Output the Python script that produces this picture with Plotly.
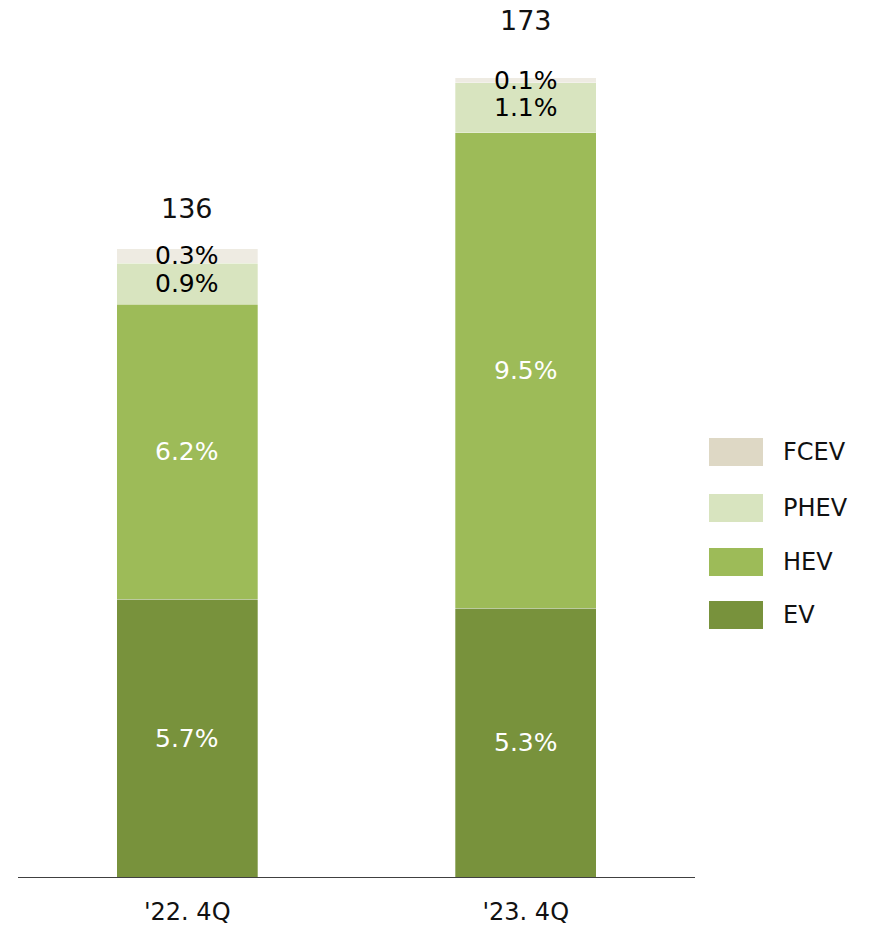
import plotly.graph_objects as go

categories = ["'22. 4Q", "'23. 4Q"]
series_names = ["EV", "HEV", "PHEV", "FCEV"]
ev_vals = [60.1, 58.2]
hev_vals = [63.9, 102.9]
phev_vals = [8.9, 10.8]
fcev_vals = [3.1, 1.1]
ev_pct = ["5.7%", "5.3%"]
hev_pct = ["6.2%", "9.5%"]
phev_pct = ["0.9%", "1.1%"]
fcev_pct = ["0.3%", "0.1%"]
totals = [136, 173]

series_vals = [ev_vals, hev_vals, phev_vals, fcev_vals]
series_pct = [ev_pct, hev_pct, phev_pct, fcev_pct]
bar_colors = ["#78923C", "#9DBB58", "#D8E4BF", "#EEEBE2"]
legend_colors = ["#78923C", "#9DBB58", "#D8E4BF", "#DED8C5"]
label_colors = ["white", "white", "#000000", "#000000"]

FONT = "DejaVu Sans"
FW, FH = 870, 928

fig = go.Figure()
for name, vals, col in zip(series_names, series_vals, bar_colors):
    fig.add_trace(go.Bar(
        x=categories, y=vals, name=name,
        marker=dict(color=col, line=dict(color="rgba(255,255,255,0.5)", width=0.6)),
        showlegend=False, hoverinfo="skip",
    ))

annotations = []
for i, cat in enumerate(categories):
    base = 0.0
    for vals, pcts, lc in zip(series_vals, series_pct, label_colors):
        mid = base + vals[i] / 2
        annotations.append(dict(
            x=cat, y=mid, xref="x", yref="y", text=pcts[i], showarrow=False,
            font=dict(family=FONT, size=25, color=lc),
            xanchor="center", yanchor="middle",
        ))
        base += vals[i]

total_shift = [40, 57]
for i, cat in enumerate(categories):
    annotations.append(dict(
        x=cat, y=totals[i], xref="x", yref="y", text=str(totals[i]), showarrow=False,
        font=dict(family=FONT, size=27, color="#111111"),
        xanchor="center", yanchor="middle", yshift=total_shift[i],
    ))

# plot area in page pixels
L, R, T, B = 18, 695, 20, 877
W, H = R - L, B - T
def px(xp):
    return (xp - L) / W
def py(yp):
    return (B - yp) / H

shapes = []
legend_order = [3, 2, 1, 0]
legend_tops = [438, 494, 548, 601]
for k, idx in enumerate(legend_order):
    top = legend_tops[k]
    shapes.append(dict(type="rect", xref="paper", yref="paper",
                       x0=px(709), x1=px(763), y0=py(top + 28), y1=py(top),
                       fillcolor=legend_colors[idx], line=dict(width=0)))
    annotations.append(dict(
        x=px(781), y=py(top + 14), xref="paper", yref="paper",
        text=series_names[idx], showarrow=False, xanchor="left", yanchor="middle",
        font=dict(family=FONT, size=24, color="#111111"),
    ))

fig.update_layout(
    barmode="stack",
    bargap=0.584,
    width=FW, height=FH,
    margin=dict(l=L, r=FW - R, t=T, b=FH - B, autoexpand=False),
    paper_bgcolor="white", plot_bgcolor="white",
    annotations=annotations, shapes=shapes,
    showlegend=False,
    font=dict(family=FONT, color="#111111"),
)
fig.update_xaxes(showline=True, linecolor="#404040", linewidth=1, ticks="",
                 tickfont=dict(family=FONT, size=24, color="#111111"),
                 ticklabelstandoff=13, automargin=False,
                 showgrid=False, zeroline=False)
fig.update_yaxes(visible=False, range=[0, H / 4.62], automargin=False,
                 showgrid=False, zeroline=False)

fig.write_html(
    "out.html",
    config={"displayModeBar": False},
    post_script="document.body.style.margin='0px';document.body.style.overflow='hidden';",
)
